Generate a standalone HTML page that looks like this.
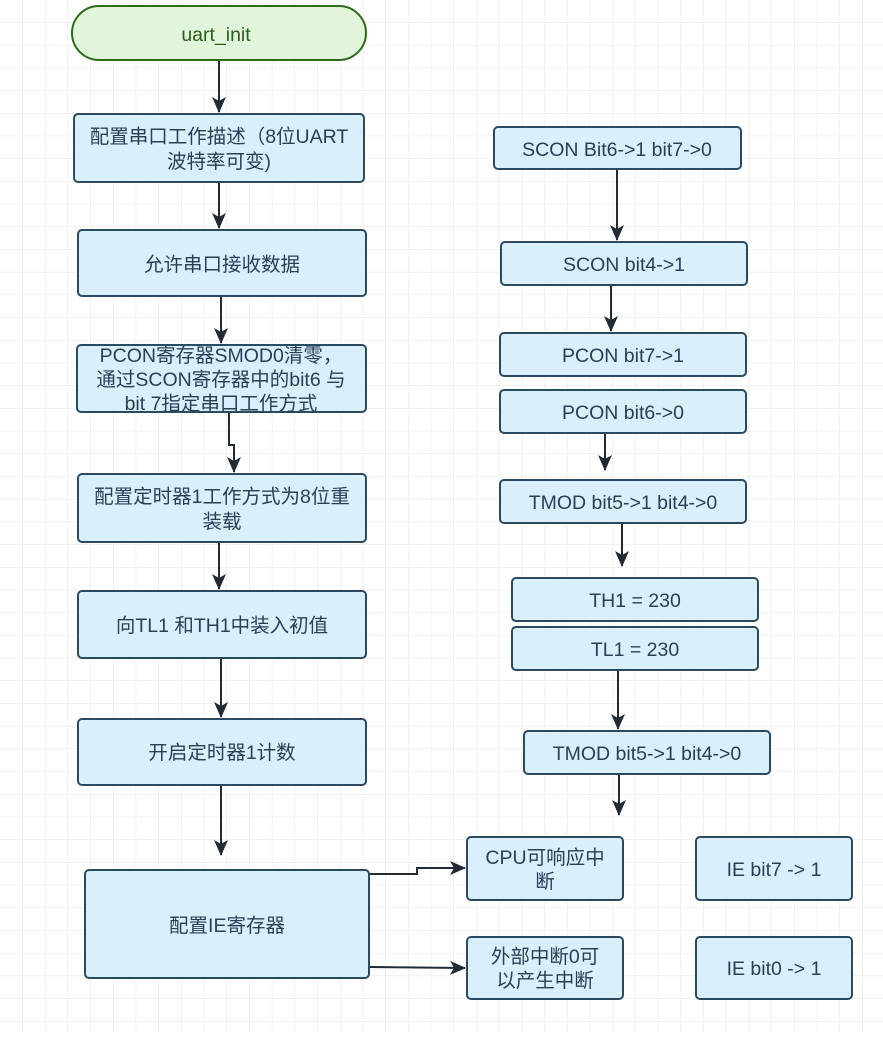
<!DOCTYPE html>
<html><head><meta charset="utf-8"><style>
html,body{margin:0;padding:0;background:#fff}
svg text{font-family:"Liberation Sans","Noto Sans CJK SC",sans-serif;font-size:19.5px;fill:#2a3f55;text-anchor:middle}
</style></head><body>
<svg width="883" height="1032" xmlns="http://www.w3.org/2000/svg">
<defs>
<pattern id="g" width="22.7" height="22.7" patternUnits="userSpaceOnUse" x="0" y="0">
<path d="M22.7 0V22.7H0" fill="none" stroke="#e4e4e4" stroke-width="1"/>
</pattern>
<marker id="a" markerWidth="16" markerHeight="14" refX="15" refY="7" orient="auto" markerUnits="userSpaceOnUse">
<path d="M0 0L16 7L0 14L4 7Z" fill="#222a33"/>
</marker>
</defs>
<rect width="883" height="1032" fill="url(#g)"/>
<g fill="none" stroke="#222a33" stroke-width="2" marker-end="url(#a)">
<path d="M219 60V112"/><path d="M219 182V228"/><path d="M221 296V343"/>
<path d="M229 412V445H234V472"/><path d="M219 542V589"/><path d="M221 658V717"/>
<path d="M221 785V855"/>
<path d="M617 169V240"/><path d="M611 285V331"/><path d="M605 433V470"/>
<path d="M622 523V566"/><path d="M618 670V729"/><path d="M619 774V815"/>
<path d="M369 874H417V868H465"/><path d="M369 967L465 968"/>
</g>
<rect x="72" y="6" width="294" height="54" rx="27" fill="#e0f5d9" stroke="#2d6a1a" stroke-width="2"/>
<text x="216" y="41" style="fill:#2d5a1a">uart_init</text>
<g fill="#d9effb" stroke="#2b4a62" stroke-width="2">
<rect x="74" y="114" width="290" height="68" rx="4"/>
<rect x="78" y="230" width="288" height="66" rx="4"/>
<rect x="77" y="345" width="289" height="67" rx="4"/>
<rect x="78" y="474" width="288" height="68" rx="4"/>
<rect x="78" y="591" width="288" height="67" rx="4"/>
<rect x="78" y="719" width="288" height="66" rx="4"/>
<rect x="85" y="870" width="284" height="108" rx="4"/>
<rect x="494" y="127" width="247" height="42" rx="4"/>
<rect x="501" y="242" width="246" height="43" rx="4"/>
<rect x="500" y="333" width="246" height="43" rx="4"/>
<rect x="500" y="390" width="246" height="43" rx="4"/>
<rect x="500" y="480" width="246" height="43" rx="4"/>
<rect x="512" y="578" width="246" height="43" rx="4"/>
<rect x="512" y="627" width="246" height="43" rx="4"/>
<rect x="524" y="731" width="246" height="43" rx="4"/>
<rect x="467" y="837" width="156" height="63" rx="4"/>
<rect x="467" y="937" width="156" height="62" rx="4"/>
<rect x="696" y="837" width="156" height="63" rx="4"/>
<rect x="696" y="937" width="156" height="62" rx="4"/>
</g>
<text x="219" y="143">配置串口工作描述（8位UART</text>
<text x="219" y="168">波特率可变)</text>
<text x="222" y="271">允许串口接收数据</text>
<text x="221" y="362">PCON寄存器SMOD0清零，</text>
<text x="221" y="386">通过SCON寄存器中的bit6 与</text>
<text x="221" y="410">bit 7指定串口工作方式</text>
<text x="222" y="503">配置定时器1工作方式为8位重</text>
<text x="222" y="528">装载</text>
<text x="222" y="632">向TL1 和TH1中装入初值</text>
<text x="222" y="759">开启定时器1计数</text>
<text x="227" y="932">配置IE寄存器</text>
<text x="617" y="156">SCON Bit6-&gt;1 bit7-&gt;0</text>
<text x="624" y="271">SCON bit4-&gt;1</text>
<text x="623" y="362">PCON bit7-&gt;1</text>
<text x="623" y="419">PCON bit6-&gt;0</text>
<text x="623" y="509">TMOD bit5-&gt;1 bit4-&gt;0</text>
<text x="635" y="607">TH1 = 230</text>
<text x="635" y="656">TL1 = 230</text>
<text x="647" y="760">TMOD bit5-&gt;1 bit4-&gt;0</text>
<text x="545" y="864">CPU可响应中</text>
<text x="545" y="888">断</text>
<text x="545" y="963">外部中断0可</text>
<text x="545" y="987">以产生中断</text>
<text x="774" y="876">IE bit7 -&gt; 1</text>
<text x="774" y="975">IE bit0 -&gt; 1</text>
</svg>
</body></html>
